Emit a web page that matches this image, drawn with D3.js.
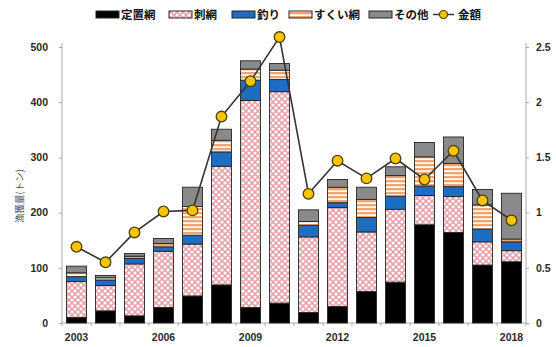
<!DOCTYPE html>
<html>
<head>
<meta charset="utf-8">
<script src="https://cdn.jsdelivr.net/npm/d3@7"></script>
<style>
  html, body { margin: 0; padding: 0; background: #fff; }
  svg { display: block; }
</style>
</head>
<body>
<svg id="chart" width="556" height="347"></svg>
<script>
// Catch by gear type (tons) and landing value (100 million yen), 2003–2018
const years = [2003, 2004, 2005, 2006, 2007, 2008, 2009, 2010, 2011, 2012, 2013, 2014, 2015, 2016, 2017, 2018];
const teichiami = [10, 22, 13, 28, 49, 69, 28, 36, 19, 30, 57, 74, 178, 164, 105, 111];
const sashiami  = [65, 46, 94, 102, 94, 215, 375, 383, 137, 179, 108, 132, 53, 65, 42, 20];
const tsuri     = [9, 10, 10, 8, 16, 26, 37, 22, 21, 9, 26, 24, 17, 18, 23, 16];
const sukuiami  = [7, 4, 4, 6, 52, 21, 20, 17, 7, 28, 33, 37, 53, 42, 44, 5];
const sonota    = [12, 4, 5, 9, 35, 20, 15, 12, 21, 14, 22, 16, 26, 48, 28, 83];
const kingaku   = [0.69, 0.55, 0.82, 1.01, 1.02, 1.87, 2.19, 2.59, 1.17, 1.47, 1.31, 1.49, 1.30, 1.56, 1.11, 0.93];

const leftTicks = [0, 100, 200, 300, 400, 500];
const rightTicks = [0, 0.5, 1, 1.5, 2, 2.5];
const yearLabels = [2003, 2006, 2009, 2012, 2015, 2018];

const seriesNames = ["定置網", "刺網", "釣り", "すくい網", "その他"];
const seriesValues = [teichiami, sashiami, tsuri, sukuiami, sonota];
const lineName = "金額";
const yTitle = "漁獲量(トン)";

const svg = d3.select("#chart");
const plot = { left: 62, right: 526, top: 47, bottom: 323 };

// fills
const defs = svg.append("defs");
const pink = defs.append("pattern").attr("id", "pat-sashi")
  .attr("patternUnits", "userSpaceOnUse").attr("width", 6).attr("height", 6);
pink.append("rect").attr("width", 6).attr("height", 6).attr("fill", "#e6a0a8");
[[0,0],[6,0],[0,6],[6,6],[3,3]].forEach(([cx, cy]) =>
  pink.append("circle").attr("cx", cx).attr("cy", cy).attr("r", 1.6).attr("fill", "#fff"));

const stripe = defs.append("pattern").attr("id", "pat-sukui")
  .attr("patternUnits", "userSpaceOnUse").attr("width", 6).attr("height", 4);
stripe.append("rect").attr("width", 6).attr("height", 4).attr("fill", "#fff");
stripe.append("rect").attr("width", 6).attr("height", 2.3).attr("fill", "#f2a46c");

const fills = ["#000", "url(#pat-sashi)", "#1f6dc1", "url(#pat-sukui)", "#8a8a8a"];

const x = d3.scaleBand().domain(years).range([plot.left, plot.right])
  .paddingInner(0.31).paddingOuter(0.155);
const y = d3.scaleLinear().domain([0, 500]).range([plot.bottom, plot.top]);
const y2 = d3.scaleLinear().domain([0, 2.5]).range([plot.bottom, plot.top]);

// stacked data
const table = years.map((yr, i) => {
  const row = { year: yr };
  seriesNames.forEach((n, k) => row[n] = seriesValues[k][i]);
  return row;
});
const stacked = d3.stack().keys(seriesNames)(table);

const axisColor = "#a8a8a8";
const tickFont = "'Liberation Sans', Arial, sans-serif";

// left axis
const gl = svg.append("g").attr("transform", `translate(${plot.left},0)`)
  .call(d3.axisLeft(y).tickValues(leftTicks).tickSize(3).tickPadding(11));
gl.select(".domain").attr("stroke", axisColor).attr("d", `M0,${plot.top - 4}V${plot.bottom}`);
gl.selectAll(".tick line").attr("stroke", axisColor);
gl.selectAll(".tick text").attr("font-family", tickFont).attr("font-weight", "bold")
  .attr("font-size", 10.5).attr("fill", "#2a2a2a");

// right axis
const gr = svg.append("g").attr("transform", `translate(${plot.right},0)`)
  .call(d3.axisRight(y2).tickValues(rightTicks).tickSize(3).tickPadding(7)
    .tickFormat(d3.format("~g")));
gr.select(".domain").attr("stroke", axisColor).attr("d", `M0,${plot.top - 4}V${plot.bottom}`);
gr.selectAll(".tick line").attr("stroke", axisColor);
gr.selectAll(".tick text").attr("font-family", tickFont).attr("font-weight", "bold")
  .attr("font-size", 10.5).attr("fill", "#2a2a2a");

// bottom axis: ticks at band boundaries
const step = x.step();
const gb = svg.append("g").attr("transform", `translate(0,${plot.bottom})`);
gb.append("line").attr("x1", plot.left).attr("x2", plot.right)
  .attr("stroke", axisColor);
d3.range(years.length + 1).forEach(i => {
  const xx = plot.left + i * step;
  gb.append("line").attr("x1", xx).attr("x2", xx).attr("y1", 0).attr("y2", 3)
    .attr("stroke", axisColor);
});
gb.selectAll("text.yr").data(yearLabels).join("text").attr("class", "yr")
  .attr("x", d => x(d) + x.bandwidth() / 2).attr("y", 18)
  .attr("text-anchor", "middle").attr("font-family", tickFont)
  .attr("font-weight", "bold").attr("font-size", 10.5).attr("fill", "#2a2a2a")
  .text(d => d);

// y axis title
svg.append("text").attr("transform", "translate(23,196) rotate(-90)")
  .attr("text-anchor", "middle").attr("font-family", "'Noto Sans CJK JP', sans-serif")
  .attr("font-size", 9.5).attr("fill", "#4a4a4a").text(yTitle);

// bars
stacked.forEach((layer, k) => {
  svg.append("g").selectAll("rect").data(layer).join("rect")
    .attr("x", d => x(d.data.year))
    .attr("width", x.bandwidth())
    .attr("y", d => y(d[1]))
    .attr("height", d => y(d[0]) - y(d[1]))
    .attr("fill", fills[k])
    .attr("stroke", "#262626").attr("stroke-width", 0.9);
});

// value line
const line = d3.line().x((d, i) => x(years[i]) + x.bandwidth() / 2).y(d => y2(d));
svg.append("path").datum(kingaku).attr("d", line)
  .attr("fill", "none").attr("stroke", "#333").attr("stroke-width", 1.6);
svg.append("g").selectAll("circle").data(kingaku).join("circle")
  .attr("cx", (d, i) => x(years[i]) + x.bandwidth() / 2)
  .attr("cy", d => y2(d)).attr("r", 5.3)
  .attr("fill", "#f6c500").attr("stroke", "#4d4000").attr("stroke-width", 1.3);

// legend
const legendX = [96, 169, 232, 289, 369];
const lg = svg.append("g");
seriesNames.forEach((n, k) => {
  lg.append("rect").attr("x", legendX[k]).attr("y", 11).attr("width", 23).attr("height", 7)
    .attr("fill", fills[k]).attr("stroke", "#262626").attr("stroke-width", 1);
  lg.append("text").attr("x", legendX[k] + 25).attr("y", 19)
    .attr("font-family", "'Noto Sans CJK JP', sans-serif").attr("font-weight", "bold")
    .attr("font-size", 11.5).attr("fill", "#111").text(n);
});
lg.append("line").attr("x1", 433).attr("x2", 454).attr("y1", 14.5).attr("y2", 14.5)
  .attr("stroke", "#333").attr("stroke-width", 1.5);
lg.append("circle").attr("cx", 443.5).attr("cy", 14.5).attr("r", 4)
  .attr("fill", "#f6c500").attr("stroke", "#4d4000").attr("stroke-width", 1.2);
lg.append("text").attr("x", 458).attr("y", 19)
  .attr("font-family", "'Noto Sans CJK JP', sans-serif").attr("font-weight", "bold")
  .attr("font-size", 11.5).attr("fill", "#111").text(lineName);
</script>
</body>
</html>
